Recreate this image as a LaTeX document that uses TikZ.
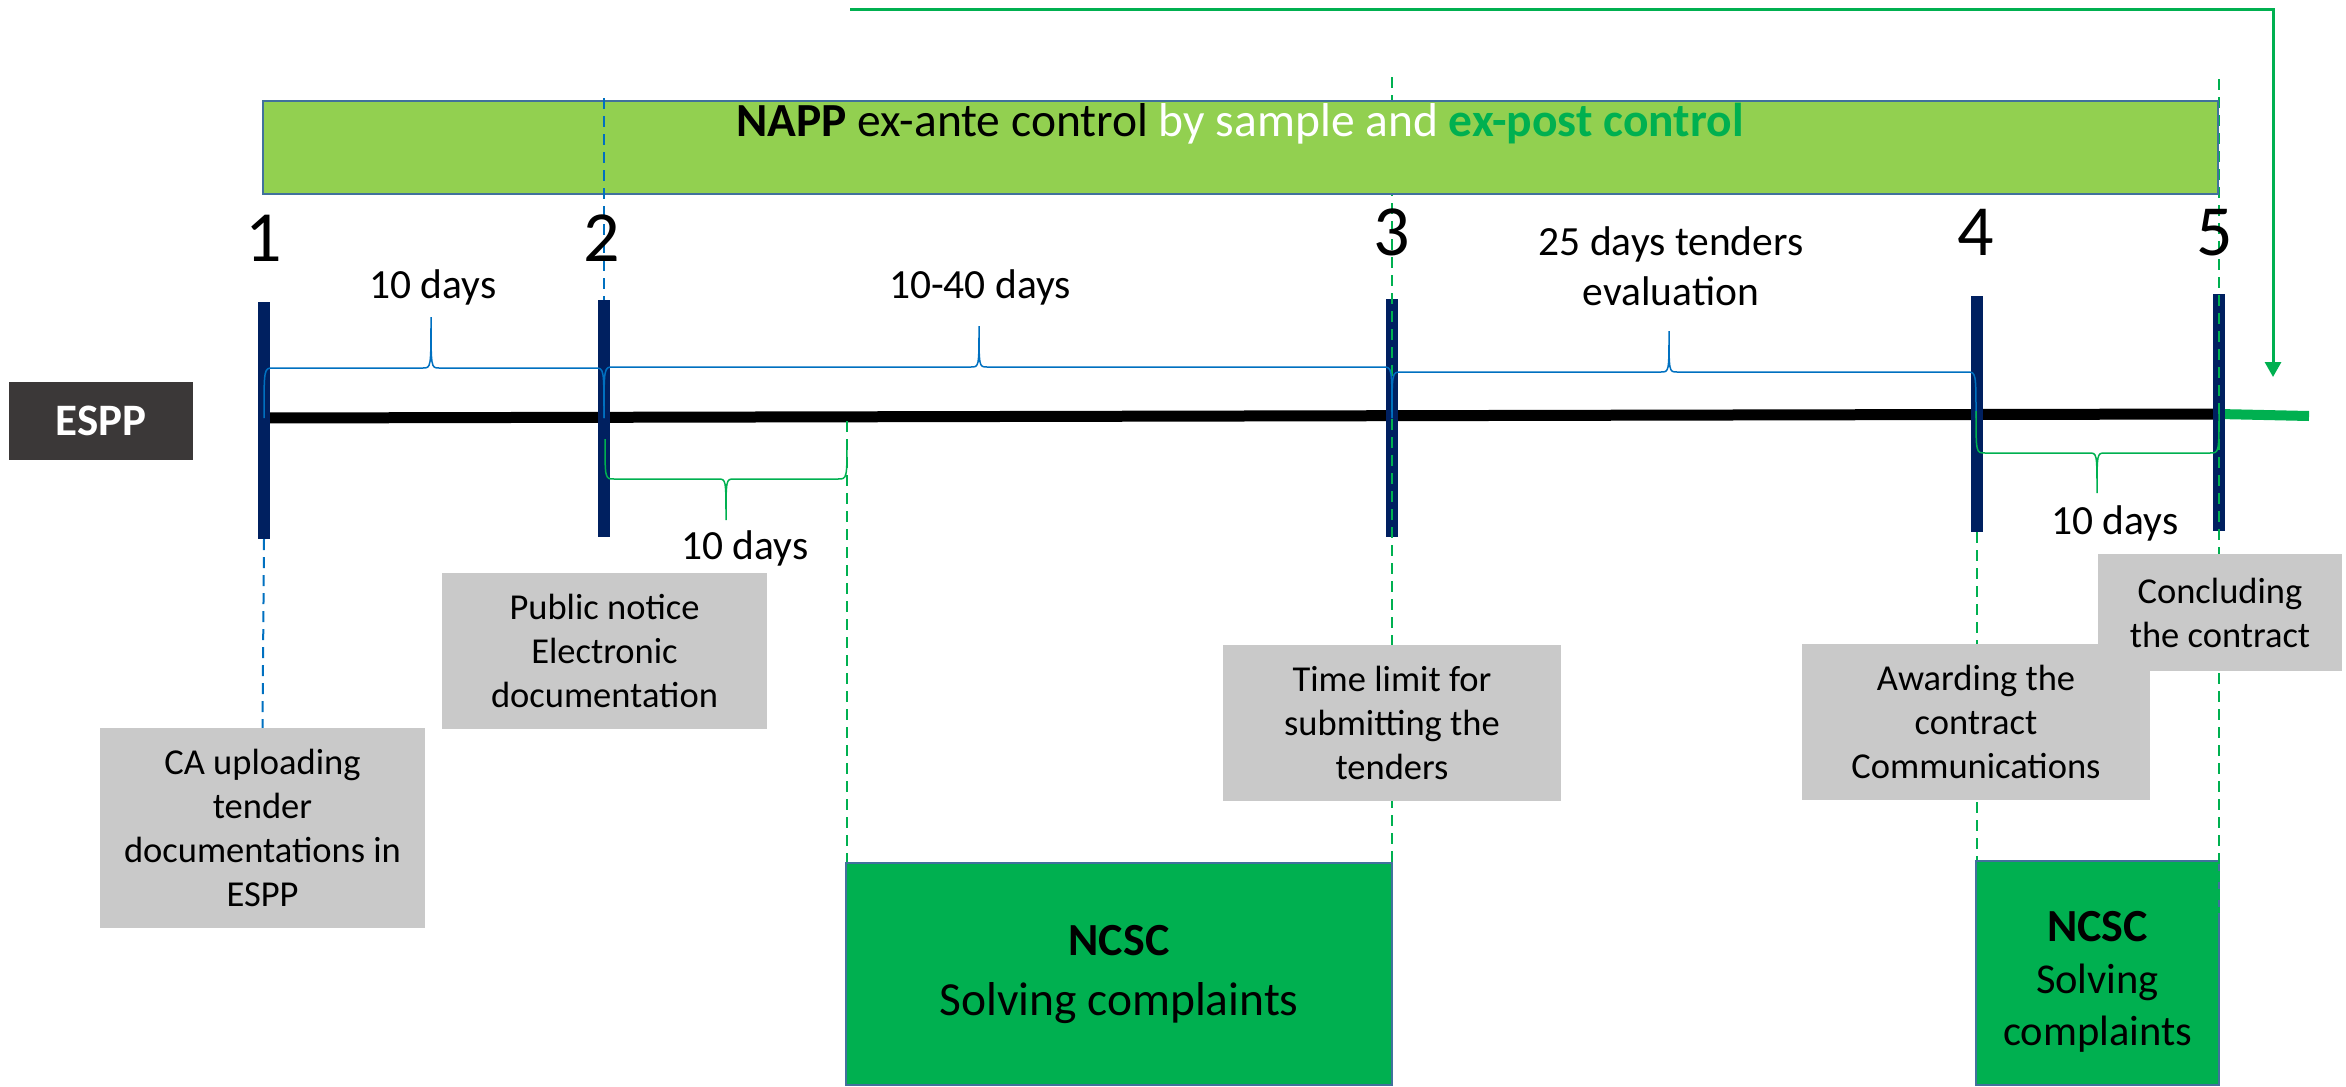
\documentclass[tikz,border=0pt]{standalone}
\usepackage{fontspec}
\setmainfont{Carlito}
\usetikzlibrary{arrows.meta}
\definecolor{navy}{HTML}{002060}
\definecolor{lgreen}{HTML}{92D050}
\definecolor{dgreen}{HTML}{00B050}
\definecolor{bblue}{HTML}{0070C0}
\definecolor{edgeblue}{HTML}{41719C}
\definecolor{boxgray}{HTML}{C9C9C9}
\definecolor{esppgray}{HTML}{3B3838}
\newcommand{\tlbrace}[7]{%
  \draw[#1] (#2,#4) .. controls (#2,#5) .. ({#2+9},#5) -- ({#6-8},#5)
    .. controls (#6,#5) .. (#6,#7) .. controls (#6,#5) .. ({#6+8},#5)
    -- ({#3-9},#5) .. controls (#3,#5) .. (#3,#4);}
\tikzset{
  tbar/.style={fill=navy, minimum width=12pt, inner sep=0pt, draw=none},
  graybox/.style={fill=boxgray, align=center, inner sep=0pt, font=\fontsize{36.5}{44}\selectfont},
  ncscbox/.style={fill=dgreen, draw=edgeblue, line width=1.5pt, align=center, inner sep=0pt},
  num/.style={font=\fontsize{72}{86}\selectfont, anchor=base, inner sep=0pt},
  days/.style={font=\fontsize{41.5}{50}\selectfont, anchor=base, align=center, inner sep=0pt},
  gdash/.style={draw=dgreen, line width=2pt, dash pattern=on 11pt off 7pt},
  bdash/.style={draw=bblue, line width=2pt, dash pattern=on 11pt off 7pt},
  bbrace/.style={draw=bblue, line width=1.5pt},
  gbrace/.style={draw=dgreen, line width=1.5pt},
}
\begin{document}
\begin{tikzpicture}[x=1pt, y=-1pt]
\useasboundingbox (0,0) rectangle (2346,1087);
% top green arrow (ex-post control)
\coordinate (arrA) at (850,9);
\coordinate (arrB) at (2273,377);
\draw[dgreen, line width=3pt, -{Triangle[width=16pt,length=15pt]}] (arrA) -| (arrB);
% ESPP label
\node[fill=esppgray, text=white, font=\fontsize{45}{54}\selectfont\bfseries, minimum width=184pt, minimum height=78pt, inner sep=0pt] (espp) at (101,421) {ESPP};
% timeline
\coordinate (tl1) at (264,418);
\coordinate (tl5) at (2219,414);
\coordinate (tlend) at (2309,416);
\draw[black, line width=11pt] (tl1) -- (tl5);
\draw[dgreen, line width=10pt] (tl5) -- (tlend);
% bars
\node[tbar, minimum height=237pt] (b1) at (264,420.5) {};
\node[tbar, minimum height=237pt] (b2) at (604,418.5) {};
\node[tbar, minimum height=238pt] (b3) at (1391.5,418) {};
\node[tbar, minimum height=236pt] (b4) at (1976.5,414) {};
\node[tbar, minimum height=237pt] (b5) at (2219,412.5) {};
% green dashed lines hidden under the bar
\coordinate (g3top) at (1392,77);
\coordinate (g5top) at (2219,79);
\coordinate (g5bot) at (2219,913);
\coordinate (gmid) at (847,421);
% boxes (nodes defined first for dashed targets)
\node[ncscbox, minimum width=546pt, minimum height=222pt] (ncsc1) at (1119,974) {};
\node[ncscbox, minimum width=243pt, minimum height=224pt] (ncsc2) at (2097.5,973) {};
\draw[gdash] (g3top) -- (g3top |- ncsc1.north);
\draw[gdash] (g5top) -- (g5bot);
% NAPP bar
\node[fill=lgreen, draw=edgeblue, line width=2pt, minimum width=1955pt, minimum height=93pt, inner sep=0pt] (napp) at (1240.5,147.5) {};
\node[anchor=base, inner sep=0pt, font=\fontsize{47.5}{57}\selectfont] (title) at (1240,136)
  {\textbf{NAPP} ex-ante control \textcolor{white}{by sample and} \textcolor{dgreen}{\textbf{ex-post control}}};
% blue dashed lines
\coordinate (d2top) at (604,98);
\draw[bdash] (d2top) -- (b2.north);
% other green dashed lines
\draw[gdash] (gmid) -- (gmid |- ncsc1.north);
\draw[gdash] (b4.south) -- (b4.south |- ncsc2.north);
% braces
\tlbrace{bbrace}{264}{604}{418}{368}{431}{317}
\tlbrace{bbrace}{604}{1392}{418}{367}{979}{326}
\tlbrace{bbrace}{1392}{1976}{418}{372}{1669}{331}
\tlbrace{gbrace}{605}{847}{439}{479}{726}{520}
\tlbrace{gbrace}{1976}{2219}{411}{453}{2097}{493}
% gray boxes
\node[graybox, minimum width=325pt, minimum height=200pt] (ca) at (262.5,828) {CA uploading\\tender\\documentations in\\ESPP};
\draw[bdash] (b1.south) -- (ca.north);
\node[graybox, minimum width=325pt, minimum height=156pt] (pub) at (604.5,651) {Public notice\\Electronic\\documentation};
\node[graybox, minimum width=338pt, minimum height=156pt] (tlim) at (1392,723) {Time limit for\\submitting the\\tenders};
\node[graybox, minimum width=348pt, minimum height=156pt] (award) at (1976,722) {Awarding the\\contract\\Communications};
\node[graybox, minimum width=244pt, minimum height=117pt] (concl) at (2220,612.5) {Concluding\\the contract};
% NCSC texts
\node[align=center, inner sep=0pt, font=\fontsize{47.5}{60}\selectfont] (ncsc1t) at (ncsc1.center) {{\fontsize{46}{60}\selectfont\bfseries NCSC}\\Solving complaints};
\node[align=center, inner sep=0pt, font=\fontsize{42.5}{52}\selectfont] (ncsc2t) at (2097.5,982) {{\fontsize{46}{52}\selectfont\bfseries NCSC}\\Solving\\complaints};
% numbers
\node[num] (n1) at (264,261) {1};
\node[num] (n2) at (602,261) {2};
\node[num] (n3) at (1392,255) {3};
\node[num] (n4) at (1976,255) {4};
\node[num] (n5) at (2215,255) {5};
% day labels
\node[days] (d1) at (433,298) {10 days};
\node[days] (d2) at (980,298) {10-40 days};
\node[days, anchor=center] (d3) at (1671,266) {25 days tenders\\evaluation};
\node[days] (d4) at (745,559) {10 days};
\node[days] (d5) at (2115,534) {10 days};
\end{tikzpicture}
\end{document}
